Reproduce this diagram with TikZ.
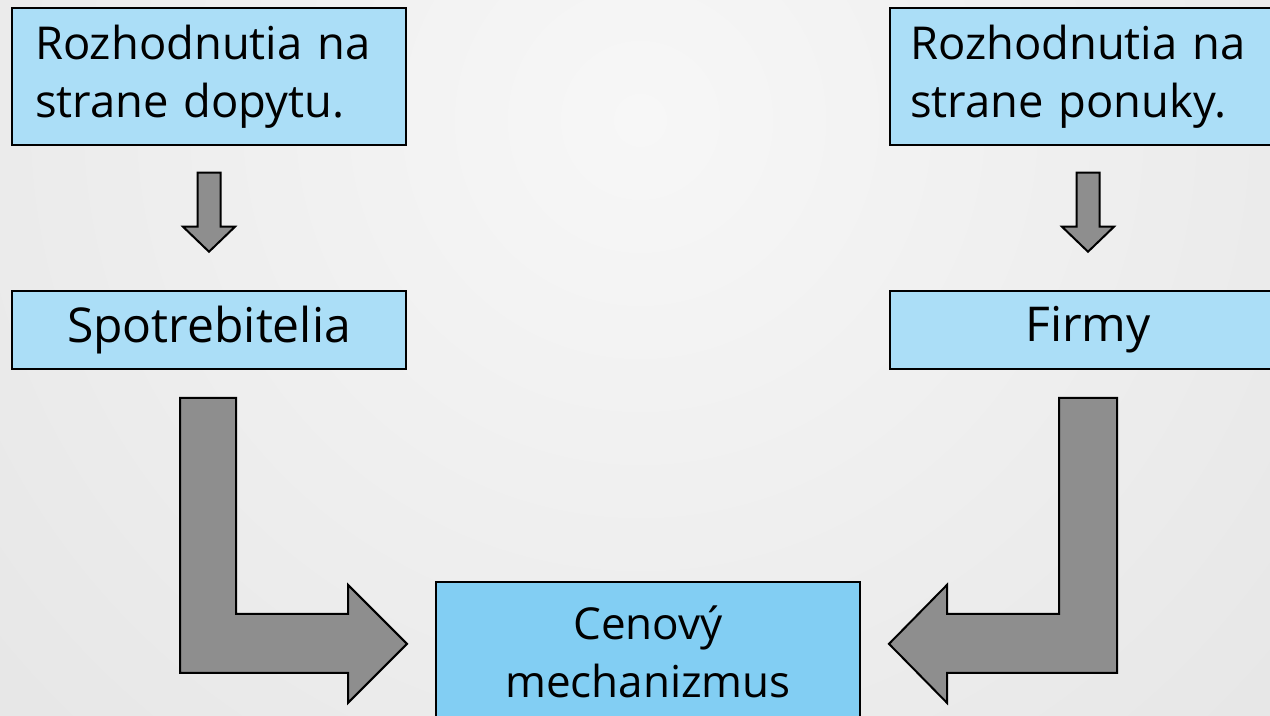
\documentclass[tikz,border=0pt]{standalone}
\usepackage{fontspec}
\setmainfont{Open Sans}
\usetikzlibrary{calc}

\definecolor{boxblue}{HTML}{ABDEF7}
\definecolor{cenablue}{HTML}{82CEF3}
\definecolor{arrowgray}{HTML}{8E8E8E}
\definecolor{bglight}{HTML}{F7F7F7}
\definecolor{bgdark}{HTML}{D6D6D6}

\begin{document}
\begin{tikzpicture}[x=0.75pt, y=-0.75pt,
    box/.style={
        draw=black,
        line width=1.3pt,
        fill=boxblue,
        inner sep=0pt,
        font=\fontsize{36}{43.5}\selectfont},
    topbox/.style={
        box,
        align=left,
        text width=261pt,
        inner xsep=17.25pt,
        minimum height=102.75pt,
        font=\fontsize{34}{43.5}\selectfont},
    blockarrow/.style={
        draw=black,
        line width=1.5pt,
        fill=arrowgray,
        line join=miter},
    downarrow/.pic={
        \draw[blockarrow] (-11.5,-39.5) -- (11.5,-39.5) -- (11.5,14.5)
            -- (26,14.5) -- (0,39.5) -- (-26,14.5) -- (-11.5,14.5) -- cycle;}]

    \useasboundingbox (0,0) rectangle (1270,716);
    \clip (0,0) rectangle (1270,716);
    \shade[inner color=bglight, outer color=bgdark] (640,120) circle (1750);

    \node[topbox] (dopyt) at (209,76.5) {Rozhodnutia na\\strane dopytu.};
    \node[topbox, text width=267pt, inner xsep=15pt] (ponuka) at (1088,76.5) {Rozhodnutia na\\strane ponuky.};

    \node[box, minimum width=295.5pt, minimum height=58.5pt] (spotr) at (209,330) {Spotrebitelia};
    \node[box, minimum width=297pt, minimum height=58.5pt] (firmy) at (1088,330) {Firmy};

    \node[box, fill=cenablue, align=center, minimum width=318pt, minimum height=105pt,
        font=\fontsize{33}{44}\selectfont] (cena) at (648,652) {Cenový\\mechanizmus};

    \pic at ($(dopyt.south)!0.46!(spotr.north)$) {downarrow};
    \pic at ($(ponuka.south)!0.46!(firmy.north)$) {downarrow};

    \draw[blockarrow] ($(spotr.south)+(-29,28)$) -- ++(56,0) -- ++(0,216) -- ++(112,0)
        -- ++(0,-29) -- ++(59,59) -- ++(-59,59) -- ++(0,-30) -- ++(-168,0) -- cycle;
    \draw[blockarrow] ($(firmy.south)+(-29,28)$) -- ++(58,0) -- ++(0,275) -- ++(-170,0)
        -- ++(0,30) -- ++(-58,-59) -- ++(58,-59) -- ++(0,29) -- ++(112,0) -- cycle;
\end{tikzpicture}
\end{document}
